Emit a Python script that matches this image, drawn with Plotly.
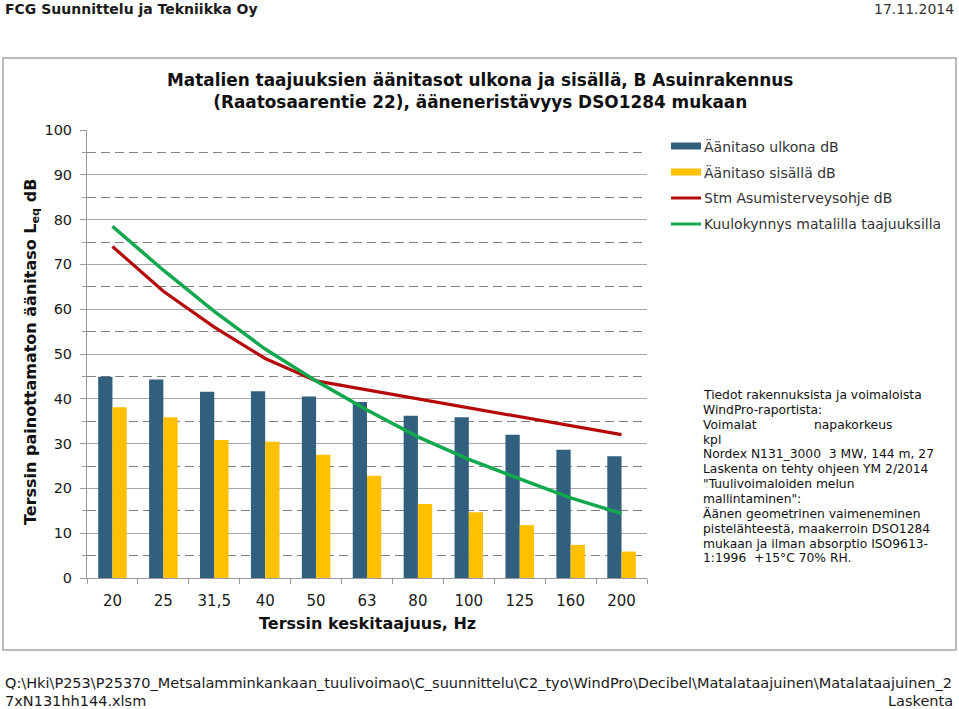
import plotly.graph_objects as go

# ---------------- data ----------------
freqs = ["20", "25", "31,5", "40", "50", "63", "80", "100", "125", "160", "200"]
outdoor = [44.9, 44.3, 41.6, 41.7, 40.5, 39.3, 36.2, 35.9, 32.0, 28.6, 27.2]
indoor = [38.1, 35.9, 30.8, 30.4, 27.5, 22.8, 16.5, 14.7, 11.8, 7.4, 5.9]
stm_guideline = [74, 64, 56, 49, 44, 42, 40, 38, 36, 34, 32]
hearing_threshold = [78.5, 68.7, 59.5, 51.1, 44.0, 37.5, 31.5, 26.5, 22.1, 17.9, 14.4]

series_names = ["Äänitaso ulkona dB", "Äänitaso sisällä dB",
                "Stm Asumisterveysohje dB", "Kuulokynnys matalilla taajuuksilla"]
y_ticks = [0, 10, 20, 30, 40, 50, 60, 70, 80, 90, 100]

title_lines = ["Matalien taajuuksien äänitasot ulkona ja sisällä, B Asuinrakennus",
               "(Raatosaarentie 22), ääneneristävyys DSO1284 mukaan"]
x_title = "Terssin keskitaajuus, Hz"
y_title = "Terssin painottamaton äänitaso L<sub>eq</sub> dB"
header_left = "FCG Suunnittelu ja Tekniikka Oy"
header_right = "17.11.2014"
footer_lines = ["Q:\\Hki\\P253\\P25370_Metsalamminkankaan_tuulivoimao\\C_suunnittelu\\C2_tyo\\WindPro\\Decibel\\Matalataajuinen\\Matalataajuinen_2",
                "7xN131hh144.xlsm"]
footer_right = "Laskenta"
note_lines = ["Tiedot rakennuksista ja voimaloista",
              "WindPro-raportista:",
              "Voimalat",
              "kpl",
              "Nordex N131_3000  3 MW, 144 m, 27",
              "Laskenta on tehty ohjeen YM 2/2014",
              "\"Tuulivoimaloiden melun",
              "mallintaminen\":",
              "Äänen geometrinen vaimeneminen",
              "pistelähteestä, maakerroin DSO1284",
              "mukaan ja ilman absorptio ISO9613-",
              "1:1996  +15°C 70% RH."]
note_extra = "napakorkeus"

# ---------------- styles ----------------
BLUE = "#31607F"
YELLOW = "#FFC000"
RED = "#B50A0A"
GREEN = "#12A84E"
SANS = "DejaVu Sans, Verdana, sans-serif"

W, H = 959, 709
L, R, T, B = 87, 647, 130, 578


def px(x):
    return (x - L) / (R - L)


def py(y):
    return (B - y) / (B - T)


fig = go.Figure()
fig.add_trace(go.Bar(x=freqs, y=outdoor, name=series_names[0], marker_color=BLUE,
                     marker_line_width=0))
fig.add_trace(go.Bar(x=freqs, y=indoor, name=series_names[1], marker_color=YELLOW,
                     marker_line_width=0))
fig.add_trace(go.Scatter(x=freqs, y=stm_guideline, name=series_names[2], mode="lines",
                         line=dict(color=RED, width=3.2)))
fig.add_trace(go.Scatter(x=freqs, y=hearing_threshold, name=series_names[3], mode="lines",
                         line=dict(color=GREEN, width=3.5)))

fig.update_layout(
    width=W, height=H,
    margin=dict(l=L, r=W - R, t=T, b=H - B, pad=0),
    paper_bgcolor="white", plot_bgcolor="white",
    showlegend=False,
    barmode="group", bargap=0.44, bargroupgap=0,
    font=dict(family=SANS, color="#1a1a1a"),
)
fig.update_xaxes(
    type="category", showgrid=False, showline=True, linecolor="#9a9a9a", linewidth=1,
    ticks="outside", tickson="boundaries", ticklen=5, tickcolor="#9a9a9a",
    tickfont=dict(family=SANS, size=15, color="#1a1a1a"), ticklabelstandoff=9,
    range=[-0.5, len(freqs) - 0.5],
)
fig.update_yaxes(
    range=[0, 100], tickvals=y_ticks, showline=True, linecolor="#9a9a9a", linewidth=1,
    ticks="outside", ticklen=6, tickcolor="#9a9a9a",
    tickfont=dict(family=SANS, size=14.5, color="#1a1a1a"), ticklabelstandoff=5,
    showgrid=True, gridcolor="#a8a8a8", gridwidth=1, zeroline=False,
    minor=dict(dtick=5, tick0=0, showgrid=True, gridcolor="#808080", griddash="9px,5px",
               gridwidth=1, ticks="outside", ticklen=4, tickcolor="#9a9a9a"),
)

shapes = []
# outer frame
shapes.append(dict(type="rect", xref="paper", yref="paper", x0=px(3), x1=px(956),
                   y0=py(650), y1=py(58), line=dict(color="#a6a6a6", width=1.5),
                   layer="below"))

annotations = []


def note(text, x, y, size, anchor="left", color="#1a1a1a", angle=0):
    annotations.append(dict(text=text, x=px(x), y=py(y), xref="paper", yref="paper",
                            xanchor=anchor, yanchor="middle", showarrow=False,
                            textangle=angle, font=dict(family=SANS, size=size, color=color)))


note("<b>" + header_left + "</b>", 3, 9, 14)
note(header_right, 956, 9, 14, anchor="right", color="#333333")
note("<b>" + title_lines[0] + "</b><br><b>" + title_lines[1] + "</b>", 480, 91, 16.9,
     anchor="center", color="#111111")
note("<b>" + x_title + "</b>", 367, 623, 16, anchor="center", color="#111111")
note("<b>" + y_title + "</b>", 31, 352, 16, anchor="center", color="#111111", angle=-90)

# legend (manual)
leg_y = [146, 172, 198, 224]
leg_colors = [BLUE, YELLOW, RED, GREEN]
for i, (name, col) in enumerate(zip(series_names, leg_colors)):
    yy = leg_y[i]
    if i < 2:
        shapes.append(dict(type="rect", xref="paper", yref="paper", x0=px(671), x1=px(701),
                           y0=py(yy + 3.5), y1=py(yy - 3.5), fillcolor=col, line=dict(width=0)))
    else:
        shapes.append(dict(type="line", xref="paper", yref="paper", x0=px(671), x1=px(701),
                           y0=py(yy), y1=py(yy), line=dict(color=col, width=3)))
    note(name, 702, yy, 14, color="#333333")

# notes
for i, line in enumerate(note_lines):
    note(line, 701, 395 + i * 14.85, 12.3, color="#111111")
note(note_extra, 812, 395 + 2 * 14.85, 12.3, color="#111111")

# footer
note(footer_lines[0], 3, 683, 14.5)
note(footer_lines[1], 3, 701, 14.5)
note(footer_right, 955, 701, 14.5, anchor="right")

fig.update_layout(shapes=shapes, annotations=annotations)
fig.write_html("out.html", post_script="document.body.style.margin='0';",
               config={"displayModeBar": False})
